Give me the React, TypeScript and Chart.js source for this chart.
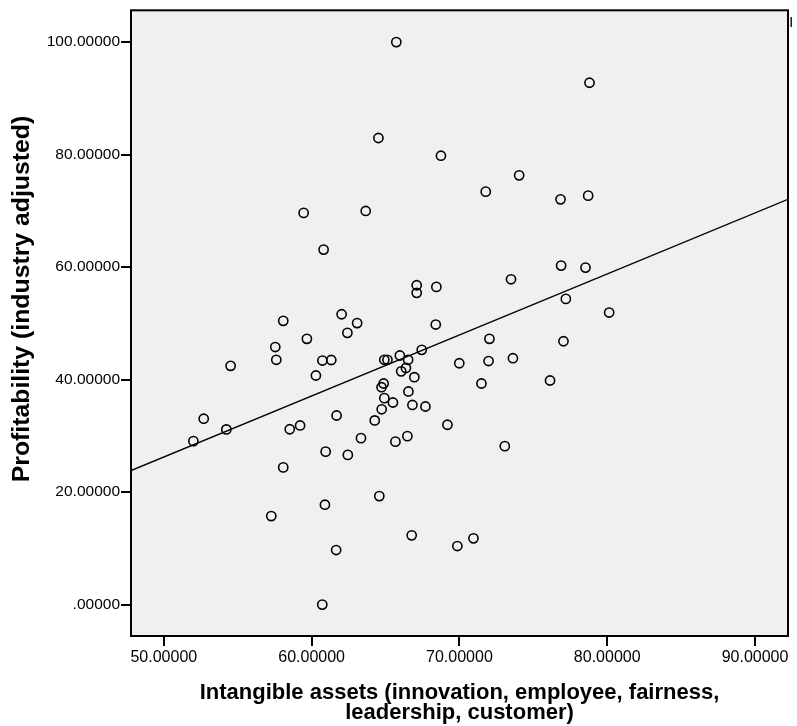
import { useEffect, useRef } from 'react';
import { Chart, registerables } from 'chart.js';

Chart.register(...registerables);

const intangibleAssets = [
  65.73, 78.80, 64.52, 68.75, 74.04, 71.78, 78.71, 76.84, 59.46, 63.66,
  60.81, 76.88, 78.53, 73.49, 67.11, 67.11, 68.44, 77.20, 80.13, 62.03,
  58.08, 63.08, 62.42, 68.40, 59.68, 72.03, 77.04, 57.54, 67.45, 57.61,
  60.73, 61.33, 64.92, 65.13, 65.97, 66.53, 73.62, 71.97, 69.99, 54.52,
  66.38, 66.06, 60.29, 66.95, 64.87, 64.73, 66.55, 76.13, 71.49, 64.92,
  65.50, 67.70, 66.82, 64.74, 61.69, 52.70, 64.27, 59.22, 58.52, 69.19,
  54.23, 63.34, 66.48, 65.67, 52.00, 73.07, 60.95, 62.45, 58.08, 64.58,
  60.90, 57.27, 66.77, 70.95, 69.86, 61.66, 60.72,
];

const profitability = [
  100.0, 92.77, 82.95, 79.80, 76.31, 73.41, 72.70, 72.04, 69.63, 69.98,
  63.11, 60.27, 59.91, 57.83, 56.77, 55.42, 56.48, 54.35, 51.92, 51.62,
  50.44, 50.05, 48.31, 49.79, 47.25, 47.25, 46.82, 45.79, 45.29, 43.52,
  43.39, 43.48, 43.52, 43.52, 44.28, 43.52, 43.80, 43.30, 42.91, 42.45,
  42.06, 41.47, 40.73, 40.43, 39.31, 38.65, 37.89, 39.84, 39.31, 36.70,
  35.93, 35.22, 35.49, 34.72, 33.62, 33.05, 32.74, 31.85, 31.17, 31.97,
  31.14, 29.59, 29.95, 28.97, 29.06, 28.17, 27.19, 26.61, 24.39, 19.29,
  17.76, 15.74, 12.31, 11.78, 10.41, 9.70, 0.0,
];

const xTickValues = [50, 60, 70, 80, 90];
const xTickLabels = ['50.00000', '60.00000', '70.00000', '80.00000', '90.00000'];
const yTickValues = [0, 20, 40, 60, 80, 100];
const yTickLabels = ['.00000', '20.00000', '40.00000', '60.00000', '80.00000', '100.00000'];
const xAxisRange = [47.78, 92.23];
const yAxisRange = [-5.58, 105.65];
const fitIntercept = -27.98;
const fitSlope = 1.0846;
const xTitleLines = ['Intangible assets (innovation, employee, fairness,', 'leadership, customer)'];
const yTitle = 'Profitability (industry adjusted)';
const fitLabel = 'R\u00B2 Linear = 0.134';

const FONT = '"Liberation Sans", Arial, sans-serif';

export default function App() {
  const canvasRef = useRef<HTMLCanvasElement | null>(null);

  useEffect(() => {
    const canvas = canvasRef.current;
    if (!canvas) return;

    const points = intangibleAssets.map((x, i) => ({ x, y: profitability[i] }));
    const fitLine = xAxisRange.map((x) => ({ x, y: fitIntercept + fitSlope * x }));

    const framePlugin = {
      id: 'frame',
      beforeDraw(chart: any) {
        const { ctx, chartArea: a } = chart;
        ctx.save();
        ctx.fillStyle = '#ffffff';
        ctx.fillRect(0, 0, chart.width, chart.height);
        ctx.fillStyle = '#f0f0f0';
        ctx.fillRect(a.left, a.top, a.right - a.left, a.bottom - a.top);
        ctx.restore();
      },
      afterDraw(chart: any) {
        const { ctx, chartArea: a } = chart;
        ctx.save();
        ctx.strokeStyle = '#000000';
        ctx.lineWidth = 2;
        ctx.strokeRect(a.left, a.top, a.right - a.left, a.bottom - a.top);

        ctx.fillStyle = '#000000';
        ctx.font = `bold 22px ${FONT}`;
        ctx.textAlign = 'center';
        ctx.textBaseline = 'alphabetic';
        const cx = (a.left + a.right) / 2;
        ctx.fillText(xTitleLines[0], cx, 699);
        ctx.fillText(xTitleLines[1], cx, 719);

        ctx.save();
        ctx.translate(22, 299);
        ctx.rotate(-Math.PI / 2);
        ctx.font = `bold 24.8px ${FONT}`;
        ctx.textBaseline = 'middle';
        ctx.fillText(yTitle, 0, 0);
        ctx.restore();

        ctx.save();
        ctx.beginPath();
        ctx.rect(a.right + 1.5, 0, 2.5, chart.height);
        ctx.clip();
        ctx.font = `bold 14px ${FONT}`;
        ctx.textAlign = 'left';
        ctx.textBaseline = 'middle';
        ctx.fillStyle = '#222222';
        ctx.fillText(fitLabel, a.right + 1.5, 23);
        ctx.restore();
        ctx.restore();
      },
    };

    const chart = new Chart(canvas, {
      type: 'scatter',
      data: {
        datasets: [
          {
            type: 'scatter',
            data: points,
            pointRadius: 4.6,
            pointHoverRadius: 4.6,
            pointBorderWidth: 1.6,
            pointBorderColor: '#000000',
            pointBackgroundColor: 'rgba(0,0,0,0)',
          },
          {
            type: 'line',
            data: fitLine,
            borderColor: '#000000',
            borderWidth: 1.4,
            pointRadius: 0,
            fill: false,
            tension: 0,
          } as any,
        ],
      },
      options: {
        animation: false,
        responsive: false,
        maintainAspectRatio: false,
        events: [],
        layout: { padding: { top: 9, right: 9, left: 0, bottom: 0 } },
        plugins: { legend: { display: false }, tooltip: { enabled: false } },
        scales: {
          x: {
            type: 'linear',
            min: xAxisRange[0],
            max: xAxisRange[1],
            afterBuildTicks(scale: any) {
              scale.ticks = xTickValues.map((v) => ({ value: v }));
            },
            afterFit(scale: any) {
              scale.height = 90;
            },
            ticks: {
              autoSkip: false,
              maxRotation: 0,
              padding: 2,
              color: '#000000',
              font: { family: FONT, size: 16 },
              callback: (_v: any, i: number) => xTickLabels[i],
            },
            grid: {
              drawOnChartArea: false,
              drawTicks: true,
              tickLength: 10,
              color: '#000000',
              lineWidth: 2,
            },
            border: { display: false },
          },
          y: {
            type: 'linear',
            min: yAxisRange[0],
            max: yAxisRange[1],
            afterBuildTicks(scale: any) {
              scale.ticks = yTickValues.map((v) => ({ value: v }));
            },
            afterFit(scale: any) {
              scale.width = 131;
            },
            ticks: {
              autoSkip: false,
              padding: 1,
              color: '#000000',
              font: { family: FONT, size: 15.5 },
              callback: (_v: any, i: number) => yTickLabels[i],
            },
            grid: {
              drawOnChartArea: false,
              drawTicks: true,
              tickLength: 10,
              color: '#000000',
              lineWidth: 2,
            },
            border: { display: false },
          },
        },
      },
      plugins: [framePlugin],
    } as any);

    return () => chart.destroy();
  }, []);

  return (
    <div style={{ position: 'fixed', left: 0, top: 0, width: 797, height: 726, background: '#ffffff' }}>
      <canvas ref={canvasRef} width={797} height={726} style={{ width: 797, height: 726, display: 'block' }} />
    </div>
  );
}
